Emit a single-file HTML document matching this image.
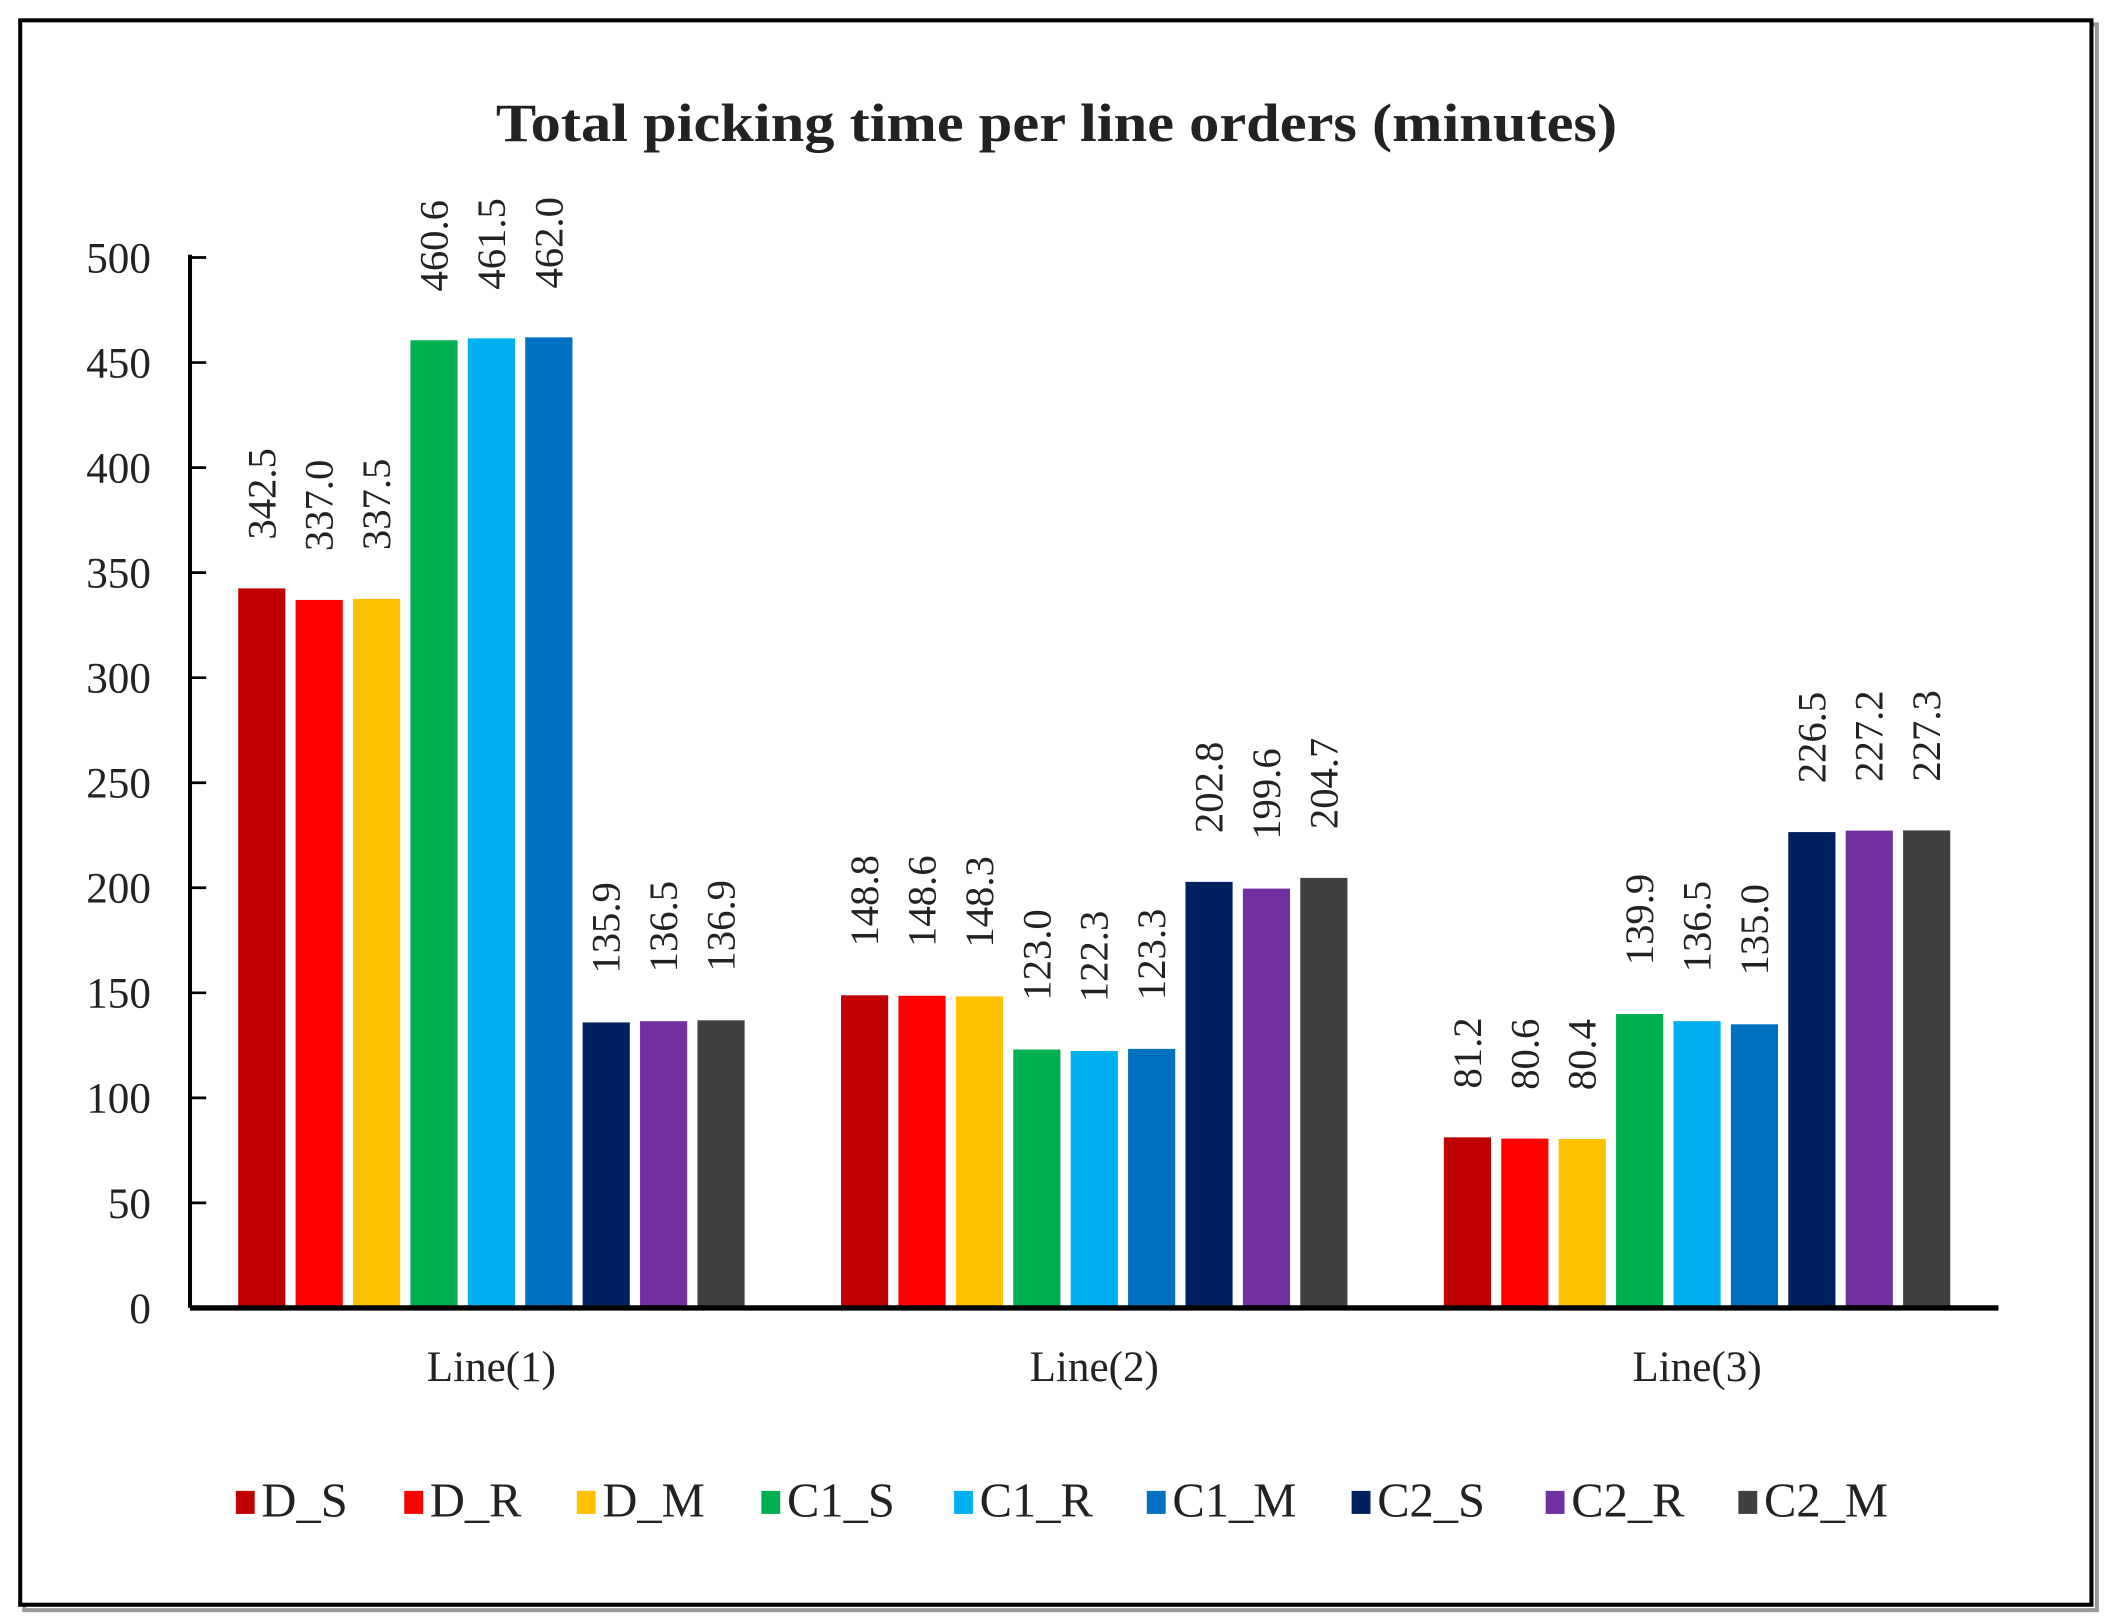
<!DOCTYPE html>
<html><head><meta charset="utf-8"><style>
html,body{margin:0;padding:0;background:#fff;}
svg{display:block;}
text{font-family:"Liberation Serif",serif;fill:#222;}
</style></head><body>
<svg id="chart" width="2113" height="1621" viewBox="0 0 1568 1196" preserveAspectRatio="none" xmlns="http://www.w3.org/2000/svg">
<rect x="18" y="18" width="1538" height="1170" fill="none" stroke="#999" stroke-width="3"/>
<rect x="15" y="15" width="1537" height="1169" fill="#fff" stroke="#000" stroke-width="3"/>
<text x="784" y="104" text-anchor="middle" font-size="40" font-weight="bold" fill="#111" textLength="832" lengthAdjust="spacingAndGlyphs">Total picking time per line orders (minutes)</text>
<g id="plot"></g>
</svg>
<script>
const categories = ["Line(1)", "Line(2)", "Line(3)"];
const seriesNames = ["D_S","D_R","D_M","C1_S","C1_R","C1_M","C2_S","C2_R","C2_M"];
const seriesColors = ["#C00000","#FF0000","#FFC000","#00B050","#00B0F0","#0070C0","#002060","#7030A0","#404040"];
const D_S = [342.5, 148.8, 81.2];
const D_R = [337.0, 148.6, 80.6];
const D_M = [337.5, 148.3, 80.4];
const C1_S = [460.6, 123.0, 139.9];
const C1_R = [461.5, 122.3, 136.5];
const C1_M = [462.0, 123.3, 135.0];
const C2_S = [135.9, 202.8, 226.5];
const C2_R = [136.5, 199.6, 227.2];
const C2_M = [136.9, 204.7, 227.3];
const yTicks = [0, 50, 100, 150, 200, 250, 300, 350, 400, 450, 500];
const seriesValues = [D_S, D_R, D_M, C1_S, C1_R, C1_M, C2_S, C2_R, C2_M];

const NS = "http://www.w3.org/2000/svg";
const g = document.getElementById("plot");
const X0 = 141, X1 = 1483, Y0 = 965, Y1 = 190, YMAX = 500;
const yScale = v => Y0 - (v / YMAX) * (Y0 - Y1);
const groupW = (X1 - X0) / categories.length;
const pitch = 42.6, barW = 35;
const xBar = (ci, si) => X0 + ci * groupW + groupW / 2 + (si - (seriesNames.length - 1) / 2) * pitch - barW / 2;
function mk(tag, attrs) { const e = document.createElementNS(NS, tag); for (const k in attrs) e.setAttribute(k, attrs[k]); g.appendChild(e); return e; }

yTicks.forEach(t => {
  const y = yScale(t);
  const tk = mk("line", {x1: X0, x2: X0 + 12, y1: y, y2: y, stroke: "#000", "stroke-width": 2});
  
  
  const lb = mk("text", {x: 112, y: y + 11, "text-anchor": "end", "font-size": 32});
  lb.textContent = t;
  
  
});
const ya = mk("line", {x1: X0, x2: X0, y1: Y1 - 2, y2: Y0, stroke: "#000", "stroke-width": 3});



categories.forEach((c, ci) => {
  seriesValues.forEach((vals, si) => {
    const v = vals[ci];
    const x = xBar(ci, si), y = yScale(v);
    const r = mk("rect", {x: x, y: y, width: barW, height: Y0 - y, fill: seriesColors[si]});
    
    
    const cx = x + barW / 2 + 10, ty = y - 36;
    const t = mk("text", {x: cx, y: ty, "font-size": 30, transform: "rotate(-90 " + cx + " " + ty + ")"});
    t.textContent = v.toFixed(1);
    
    
  });
  const cl = mk("text", {x: X0 + ci * groupW + groupW / 2, y: 1019, "text-anchor": "middle", "font-size": 32});
  cl.textContent = c;
  
  
});
const xa = mk("line", {x1: X0, x2: X1, y1: Y0, y2: Y0, stroke: "#000", "stroke-width": 4});



const legX = [175, 300, 428, 565, 708, 851, 1003, 1147, 1290];
seriesNames.forEach((n, i) => {
  const sw = mk("rect", {x: legX[i], y: 1100, width: 14, height: 17, fill: seriesColors[i]});
  
  
  const t = mk("text", {x: legX[i] + 19, y: 1119, "font-size": 36});
  t.textContent = n;
  
  
});
</script>
</body></html>
